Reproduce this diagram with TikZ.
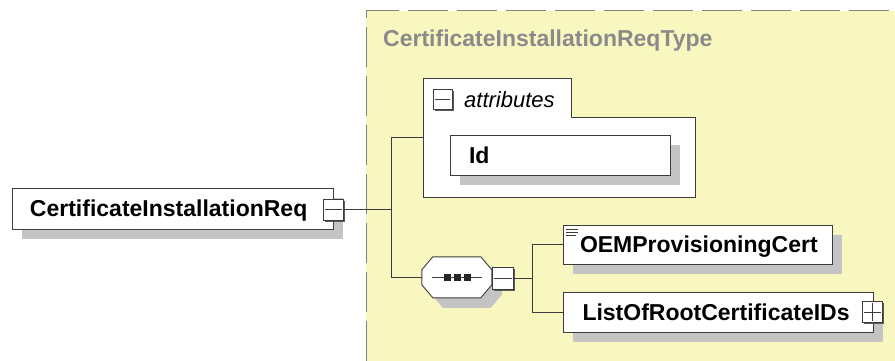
\documentclass[tikz,border=0pt]{standalone}
\usepackage{fontspec}
\setmainfont{Liberation Sans}
\usetikzlibrary{shadows,calc}
\definecolor{typefill}{RGB}{249,247,192}
\definecolor{shgray}{RGB}{196,196,196}
\definecolor{boxline}{RGB}{60,60,60}
\definecolor{dashgray}{RGB}{130,130,130}
\definecolor{titlegray}{RGB}{138,138,138}
\definecolor{bevel}{RGB}{90,90,90}
\tikzset{
  bigfont/.style={font=\bfseries\fontsize{23}{23}\selectfont},
  elem/.style={draw=boxline, line width=0.9pt, fill=white, bigfont,
    text height=16.5pt, text depth=0pt, align=left, inner ysep=0pt,
    drop shadow={shadow xshift=10pt, shadow yshift=-10pt, fill=shgray, opacity=1}},
  expander/.style={draw=boxline, line width=0.8pt, fill=white, inner sep=0pt,
    minimum width=20pt, minimum height=21pt,
    drop shadow={shadow xshift=1.6pt, shadow yshift=-1.6pt, fill=bevel, opacity=1}},
  conn/.style={draw=boxline, line width=1pt},
  hidden/.style={inner sep=0pt, draw=none}
}
\begin{document}
\begin{tikzpicture}[x=1pt,y=-1pt]
\useasboundingbox (0,0) rectangle (895,361);
% complex type region
\fill[typefill] (366,11) rectangle (895,361);
\draw[dashgray, line width=1pt, dash pattern=on 40pt off 9pt] (366,361) -- (366,11) -- (895,11);
\node[hidden, anchor=base west, bigfont, text=titlegray] (title) at (383,47) {CertificateInstallationReqType};

% root element
\node[elem, minimum width=321pt, minimum height=41pt, text width=285pt, inner xsep=18pt] (req) at (172.5,208.5) {CertificateInstallationReq};
\node[expander] (reqminus) at (333.5,209.5) {};
\draw[boxline, line width=0.8pt] ([xshift=2pt]reqminus.west) -- ([xshift=-2pt]reqminus.east);

% attributes group
\node[hidden, minimum width=272pt, minimum height=119pt] (attr) at (559,137.5) {};
\draw[boxline, line width=0.9pt, fill=white] (423,197) -- (423,78) -- (571,78) -- (571,117) -- (695,117) -- (695,197) -- cycle;
\node[expander, minimum width=19pt, minimum height=20pt] (attrminus) at (442.5,99) {};
\draw[boxline, line width=0.8pt] ([xshift=2pt]attrminus.west) -- ([xshift=-2pt]attrminus.east);
\node[hidden, anchor=base west, font=\itshape\fontsize{22}{22}\selectfont] (attrlabel) at (464,107) {attributes};
\node[elem, minimum width=220pt, minimum height=40pt, text width=182pt, inner xsep=19pt] (id) at (560,155) {Id};

% sequence compositor
\node[hidden, minimum width=70pt, minimum height=41pt] (seq) at (457,277.5) {};
\fill[shgray] ($(seq.north west)+(10,0+10)$) ++(11,0) -- ++(48,0) -- ++(11,13) -- ++(0,15) -- ++(-11,13) -- ++(-48,0) -- ++(-11,-13) -- ++(0,-15) -- cycle;
\draw[boxline, line width=0.9pt, fill=white] (seq.north west) ++(11,0) -- ++(48,0) -- ++(11,13) -- ++(0,15) -- ++(-11,13) -- ++(-48,0) -- ++(-11,-13) -- ++(0,-15) -- cycle;
\draw[boxline, line width=0.8pt] ([xshift=10pt]seq.west) -- ([xshift=-10pt]seq.east);
\foreach \dx in {-10,0,10} \fill[black!85] ($(seq.center)+(\dx,0)+(-3.5,-3.5)$) rectangle ++(7,7);
\node[expander, minimum width=21pt, minimum height=22pt] (seqminus) at (503,278.5) {};
\draw[boxline, line width=0.8pt] ([xshift=2pt]seqminus.west) -- ([xshift=-2pt]seqminus.east);

% child elements
\node[elem, minimum width=269pt, minimum height=39pt, text width=235pt, inner xsep=17pt] (oem) at (697.5,244.5) {OEMProvisioningCert};
\draw[boxline, line width=0.7pt] (566,229) -- (578,229) (566,232) -- (578,232) (566,235) -- (576,235);
\node[elem, minimum width=310pt, minimum height=40pt, text width=271pt, inner xsep=19pt] (list) at (718,312) {ListOfRootCertificateIDs};
\node[expander] (listplus) at (872.5,312) {};
\draw[boxline, line width=0.8pt] ([xshift=2pt]listplus.west) -- ([xshift=-2pt]listplus.east)
  ([yshift=-2pt]listplus.north) -- ([yshift=2pt]listplus.south);

% connectors
\coordinate (j1) at (391,0);
\coordinate (j2) at (532,0);
\draw[conn] (reqminus.east) -- (reqminus.east -| j1);
\draw[conn] (attr.west) -| (j1 |- seq.west) -- (seq.west);
\draw[conn] (seqminus.east) -- (seqminus.east -| j2);
\draw[conn] (oem.west) -| (j2 |- list.west) -- (list.west);
\end{tikzpicture}
\end{document}
